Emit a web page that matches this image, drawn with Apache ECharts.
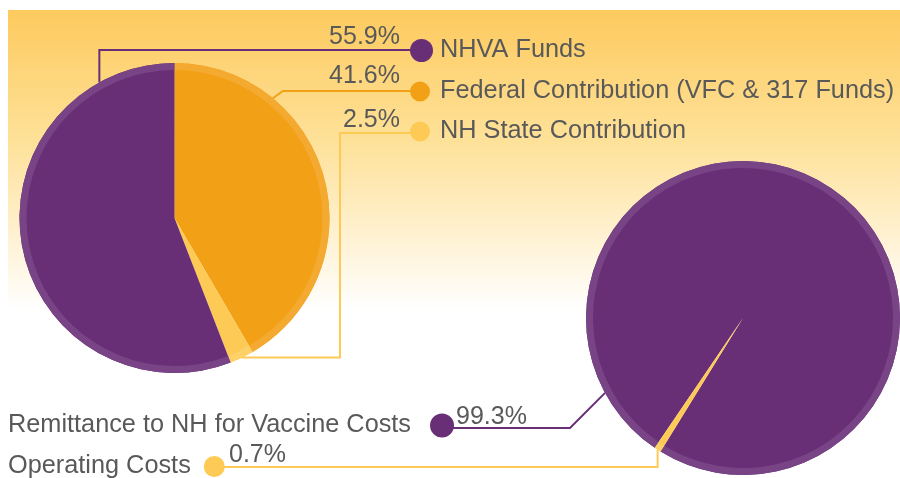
<!DOCTYPE html>
<html>
<head>
<meta charset="utf-8">
<script src="https://cdn.jsdelivr.net/npm/echarts@6/dist/echarts.min.js"></script>
<style>
  html, body { margin: 0; background: #fff; }
  #chart { width: 900px; height: 478px; }
</style>
</head>
<body>
<div id="chart"></div>
<script>
// where the money comes from (left pie), percent of total
const fundNames = ['Federal Contribution (VFC & 317 Funds)', 'NH State Contribution', 'NHVA Funds']
const fundValues = [41.6, 2.5, 55.9]
const fundColors = ['#f2a016', '#fdca55', '#682f76']
const fundRing = ['#f4aa30', '#fdd068', '#784486']

// where the money goes (right pie)
const spendNames = ['Remittance to NH for Vaccine Costs', 'Operating Costs']
const spendValues = [99.3, 0.7]
const spendColors = ['#682f76', '#fdca55']
const spendRing = ['#784486', '#fdd068']

const fontFamily = '"Liberation Sans", Arial, sans-serif'
const textColor = '#595959'

const C1 = [174.5, 218], R1 = 155
const C2 = [743, 318], R2 = 157

function edge(c, r, deg) {
  const a = deg * Math.PI / 180
  return [c[0] + r * Math.sin(a), c[1] - r * Math.cos(a)]
}

// leader routes: angle on the rim (deg clockwise from top, null = slice middle),
// percent label spot, and the elbow path out to the marker
const leaders = {
  'NHVA Funds': { angle: 331, label: [400, 37, 'right'], path: p => [p, [p[0], 50], [420, 50]] },
  'Federal Contribution (VFC & 317 Funds)': { angle: 39.4, label: [400, 76, 'right'], path: p => [p, [283, 91], [420, 91]] },
  'NH State Contribution': { angle: null, label: [400, 120, 'right'], path: p => [p, [340, p[1]], [340, 133], [420, 133]] },
  'Remittance to NH for Vaccine Costs': { angle: 241.5, label: [456, 417, 'left'], path: p => [p, [570, 428], [441, 428]] },
  'Operating Costs': { angle: null, label: [229, 455, 'left'], path: p => [p, [p[0], 467], [213, 467]] }
}

function makeLayout(names, center, radius) {
  return function (params) {
    const cfg = leaders[names[params.dataIndex]]
    const start = cfg.angle == null && params.labelLinePoints
      ? params.labelLinePoints[0]
      : edge(center, radius, cfg.angle)
    return {
      x: cfg.label[0],
      y: cfg.label[1],
      align: cfg.label[2],
      verticalAlign: 'middle',
      labelLinePoints: cfg.path(start)
    }
  }
}

function pieSeries(names, values, colors, center, radius, startAngle) {
  return {
    type: 'pie',
    center: center,
    radius: [0, radius],
    startAngle: startAngle,
    clockwise: true,
    avoidLabelOverlap: false,
    data: names.map((n, i) => ({ name: n, value: values[i], itemStyle: { color: colors[i] } })),
    itemStyle: { borderWidth: 0 },
    label: {
      show: true,
      formatter: p => p.value.toFixed(1) + '%',
      fontSize: 25,
      fontFamily: fontFamily,
      color: textColor
    },
    labelLine: { show: true, length: 10, length2: 10, lineStyle: { width: 2 } },
    labelLayout: makeLayout(names, center, radius),
    emphasis: { disabled: true }
  }
}

function ringSeries(names, values, colors, center, radius, startAngle) {
  return {
    type: 'pie',
    center: center,
    radius: [radius - 7, radius],
    startAngle: startAngle,
    clockwise: true,
    silent: true,
    legendHoverLink: false,
    data: names.map((n, i) => ({ name: n, value: values[i], itemStyle: { color: colors[i] } })),
    itemStyle: { borderWidth: 0 },
    label: { show: false },
    labelLine: { show: false },
    emphasis: { disabled: true }
  }
}

function legendItem(name, left, top, size, align, pad) {
  return {
    data: [name],
    left: left,
    top: top,
    orient: 'vertical',
    align: align,
    icon: 'circle',
    itemWidth: size,
    itemHeight: size,
    padding: 0,
    selectedMode: false,
    textStyle: {
      fontSize: 25.3,
      fontFamily: fontFamily,
      color: textColor,
      lineHeight: size,
      padding: align === 'left' ? [0, 0, 0, pad] : [0, pad, 0, 0]
    }
  }
}

const chart = echarts.init(document.getElementById('chart'))

chart.setOption({
  animation: false,
  backgroundColor: '#fff',
  graphic: [
    {
      type: 'rect',
      z: -10,
      silent: true,
      shape: { x: 8, y: 10, width: 892, height: 300 },
      style: {
        fill: {
          type: 'linear', x: 0, y: 0, x2: 0, y2: 1,
          colorStops: [
            { offset: 0, color: '#fdca5e' },
            { offset: 0.45, color: '#fee29b' },
            { offset: 0.8, color: '#fff4da' },
            { offset: 1, color: '#ffffff' }
          ]
        }
      }
    }
  ],
  legend: [
    legendItem('NHVA Funds', 410, 38, 23, 'left', 2),
    legendItem('Federal Contribution (VFC & 317 Funds)', 410, 79, 20, 'left', 5),
    legendItem('NH State Contribution', 410, 119, 20, 'left', 5),
    legendItem('Remittance to NH for Vaccine Costs', 8, 413, 24, 'right', 14),
    legendItem('Operating Costs', 8, 454, 21, 'right', 8)
  ],
  series: [
    pieSeries(fundNames, fundValues, fundColors, C1, R1, 90),
    ringSeries(fundNames, fundValues, fundRing, C1, R1, 90),
    pieSeries(spendNames, spendValues, spendColors, C2, R2, 235.8),
    ringSeries(spendNames, spendValues, spendRing, C2, R2, 235.8)
  ]
})
</script>
</body>
</html>
